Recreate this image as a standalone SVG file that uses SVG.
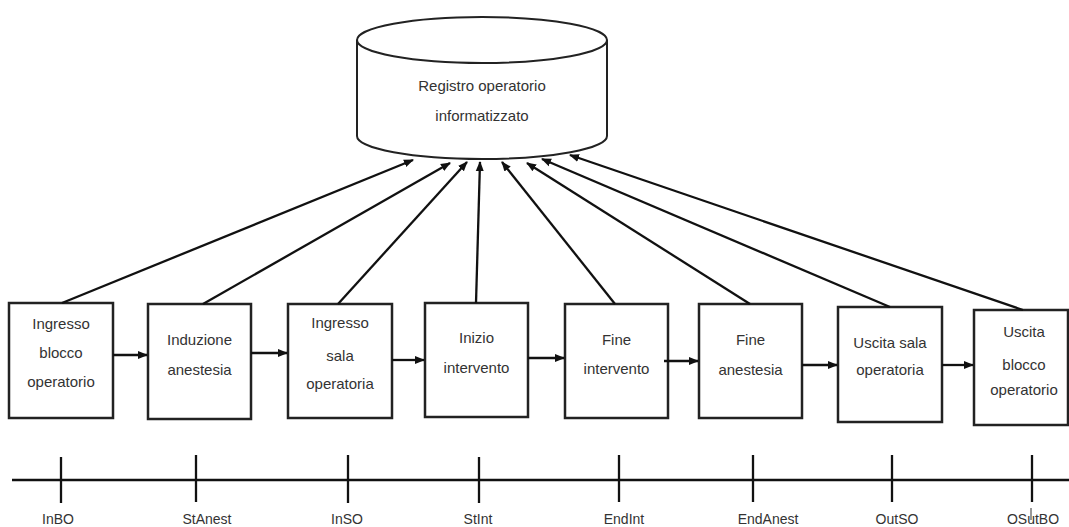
<svg xmlns="http://www.w3.org/2000/svg" width="1069" height="527" viewBox="0 0 1069 527">
<style>
.box{fill:#fff;stroke:#222;stroke-width:2.5}
.cyl{fill:#fff;stroke:#222;stroke-width:2}
.t{font-family:"Liberation Sans",Arial,sans-serif;font-size:15px;fill:#333;text-anchor:middle}
.lbl{font-family:"Liberation Sans",Arial,sans-serif;font-size:14px;fill:#333;text-anchor:middle}
.c{stroke:#111;stroke-width:2.3;fill:none}
.axis{stroke:#111;stroke-width:2.3;fill:none}
</style>
<defs>
<marker id="ah" markerUnits="userSpaceOnUse" markerWidth="10" markerHeight="10" viewBox="0 0 10 10" refX="9" refY="5" orient="auto">
<path d="M0,1 L10,5 L0,9 Z" fill="#111"/>
</marker>
</defs>
<rect width="1069" height="527" fill="#fff"/>

<g id="registro">
<path class="cyl" d="M357,40 L357,136 A125,23 0 0 0 607,136 L607,40"/>
<ellipse class="cyl" cx="482" cy="40" rx="125" ry="23"/>
<text class="t" x="482" y="91">Registro operatorio</text>
<text class="t" x="482" y="121">informatizzato</text>
</g>

<g id="node1">
<rect class="box" x="9" y="303" width="104" height="115"/>
<text class="t" x="61" y="329">Ingresso</text>
<text class="t" x="61" y="358">blocco</text>
<text class="t" x="61" y="387">operatorio</text>
</g>
<g id="node2">
<rect class="box" x="148" y="304" width="103" height="115"/>
<text class="t" x="199.5" y="345">Induzione</text>
<text class="t" x="199.5" y="375">anestesia</text>
</g>
<g id="node3">
<rect class="box" x="288" y="304" width="104" height="114"/>
<text class="t" x="340" y="328">Ingresso</text>
<text class="t" x="340" y="361">sala</text>
<text class="t" x="340" y="389">operatoria</text>
</g>
<g id="node4">
<rect class="box" x="425" y="303" width="103" height="114"/>
<text class="t" x="476.5" y="343">Inizio</text>
<text class="t" x="476.5" y="373">intervento</text>
</g>
<g id="node5">
<rect class="box" x="565" y="304" width="103" height="114"/>
<text class="t" x="616.5" y="345">Fine</text>
<text class="t" x="616.5" y="374">intervento</text>
</g>
<g id="node6">
<rect class="box" x="699" y="304" width="103" height="114"/>
<text class="t" x="750.5" y="345">Fine</text>
<text class="t" x="750.5" y="375">anestesia</text>
</g>
<g id="node7">
<rect class="box" x="838" y="307" width="104" height="115"/>
<text class="t" x="890" y="348">Uscita sala</text>
<text class="t" x="890" y="375">operatoria</text>
</g>
<g id="node8">
<rect class="box" x="974" y="310" width="94" height="115"/>
<text class="t" x="1024" y="337">Uscita</text>
<text class="t" x="1024" y="370">blocco</text>
<text class="t" x="1024" y="395">operatorio</text>
</g>

<g id="connectors">
<line class="c" x1="113" y1="355" x2="147" y2="355" marker-end="url(#ah)"/>
<line class="c" x1="251" y1="353" x2="287" y2="353" marker-end="url(#ah)"/>
<line class="c" x1="392" y1="360" x2="424" y2="360" marker-end="url(#ah)"/>
<line class="c" x1="528" y1="358" x2="564" y2="358" marker-end="url(#ah)"/>
<line class="c" x1="664" y1="361" x2="698" y2="361" marker-end="url(#ah)"/>
<line class="c" x1="802" y1="365" x2="837" y2="365" marker-end="url(#ah)"/>
<line class="c" x1="942" y1="365" x2="973" y2="365" marker-end="url(#ah)"/>

<line class="c" x1="62" y1="303" x2="413" y2="160" marker-end="url(#ah)"/>
<line class="c" x1="203" y1="304" x2="450" y2="163" marker-end="url(#ah)"/>
<line class="c" x1="338" y1="304" x2="467" y2="162" marker-end="url(#ah)"/>
<line class="c" x1="476" y1="303" x2="480" y2="162" marker-end="url(#ah)"/>
<line class="c" x1="615" y1="304" x2="502" y2="162" marker-end="url(#ah)"/>
<line class="c" x1="750" y1="304" x2="527" y2="163" marker-end="url(#ah)"/>
<line class="c" x1="890" y1="307" x2="542" y2="159" marker-end="url(#ah)"/>
<line class="c" x1="1023" y1="310" x2="570" y2="155" marker-end="url(#ah)"/>
</g>

<g id="timeline">
<line class="axis" x1="12" y1="480" x2="1069" y2="480"/>
<line class="axis" x1="61" y1="457" x2="61" y2="503"/>
<line class="axis" x1="196" y1="455" x2="196" y2="502"/>
<line class="axis" x1="348" y1="455" x2="348" y2="503"/>
<line class="axis" x1="479" y1="457" x2="479" y2="503"/>
<line class="axis" x1="619" y1="455" x2="619" y2="502"/>
<line class="axis" x1="753" y1="455" x2="753" y2="502"/>
<line class="axis" x1="892" y1="455" x2="892" y2="502"/>
<line class="axis" x1="1032" y1="455" x2="1032" y2="502"/>
<line x1="1031" y1="508" x2="1031" y2="520" stroke="#333" stroke-width="1"/>
<text class="lbl" x="58" y="524">InBO</text>
<text class="lbl" x="207" y="524">StAnest</text>
<text class="lbl" x="347" y="524">InSO</text>
<text class="lbl" x="478" y="524">StInt</text>
<text class="lbl" x="624" y="524">EndInt</text>
<text class="lbl" x="768" y="524">EndAnest</text>
<text class="lbl" x="897" y="524">OutSO</text>
<text class="lbl" x="1033" y="524">OSutBO</text>
</g>
</svg>
